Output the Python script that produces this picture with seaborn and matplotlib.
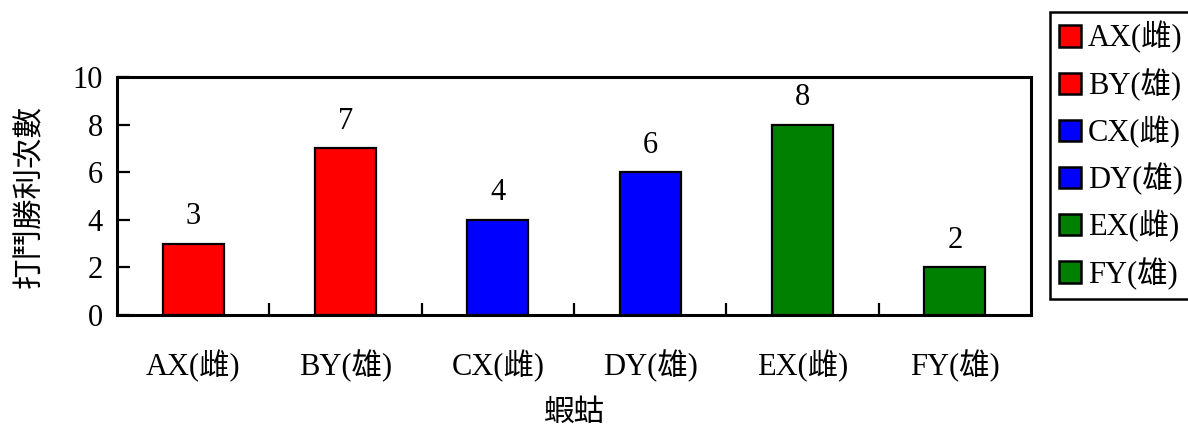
import matplotlib
matplotlib.use("Agg")
import matplotlib.pyplot as plt
import seaborn as sns
import pandas as pd
from matplotlib.ticker import FixedLocator, NullFormatter
from matplotlib.patches import Patch

# Data
categories = ["AX(雌)", "BY(雄)", "CX(雌)", "DY(雄)", "EX(雌)", "FY(雄)"]
wins = [3, 7, 4, 6, 8, 2]
colors = ["#ff0000", "#ff0000", "#0000ff", "#0000ff", "#008000", "#008000"]
y_ticks = [0, 2, 4, 6, 8, 10]

sns.set_theme(style="white")
plt.rcParams["font.family"] = ["Liberation Serif", "Noto Sans CJK TC"]
plt.rcParams["font.size"] = 22
plt.rcParams["text.color"] = "black"
plt.rcParams["axes.labelcolor"] = "black"
plt.rcParams["xtick.color"] = "black"
plt.rcParams["ytick.color"] = "black"

df = pd.DataFrame({"蝦蛄": categories, "打鬥勝利次數": wins})

fig = plt.figure(figsize=(11.88, 4.34), dpi=100)
ax = fig.add_axes([117 / 1188, 1 - 315 / 434, (1031 - 117) / 1188, (315 - 77) / 434])

sns.barplot(data=df, x="蝦蛄", y="打鬥勝利次數", hue="蝦蛄",
            palette=dict(zip(categories, colors)), saturation=1, dodge=False,
            width=0.4, edgecolor="black", linewidth=1.6, legend=False, ax=ax)

for container in ax.containers:
    ax.bar_label(container, padding=9, fontsize=22, color="black")

ax.set_xlim(-0.5, len(categories) - 0.5)
ax.set_ylim(0, 10)
ax.set_yticks(y_ticks)
ax.set_xticks(range(len(categories)))
ax.set_xticklabels(categories)
ax.xaxis.set_minor_locator(FixedLocator([i + 0.5 for i in range(len(categories) - 1)]))
ax.xaxis.set_minor_formatter(NullFormatter())
ax.tick_params(axis="x", which="major", length=0, pad=25, labelsize=22)
ax.tick_params(axis="x", which="minor", direction="in", length=9, width=1.6, color="black", bottom=True)
ax.tick_params(axis="y", direction="in", length=9, width=1.6, color="black", left=True, pad=10, labelsize=22)

for s in ax.spines.values():
    s.set_visible(True)
    s.set_color("black")
    s.set_linewidth(2.2)

ax.set_xlabel("蝦蛄", fontsize=22, labelpad=12)
ax.set_ylabel("打鬥勝利次數", fontsize=22, labelpad=20)

handles = [Patch(facecolor=c, edgecolor="black", linewidth=1.8) for c in colors]
leg = fig.legend(handles, categories, loc="upper left",
                 bbox_to_anchor=(1050 / 1188, 1 - 12 / 434),
                 frameon=True, fancybox=False, edgecolor="black", framealpha=1,
                 fontsize=22, handlelength=0.7, handleheight=0.7,
                 handletextpad=0.25, labelspacing=0.48, borderpad=0.3,
                 borderaxespad=0)
leg.get_frame().set_linewidth(1.8)

fig.savefig("out.png", dpi=100)
